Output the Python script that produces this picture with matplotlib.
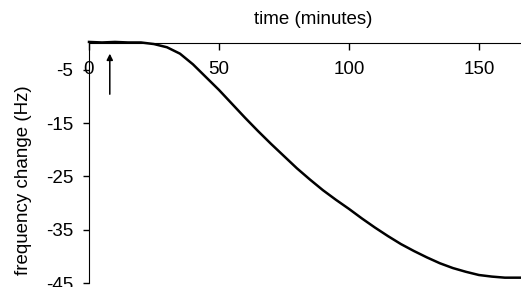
import numpy as np
import matplotlib.pyplot as plt
from matplotlib.patches import Rectangle

plt.rcParams['font.family'] = ['Liberation Sans', 'DejaVu Sans']
plt.rcParams['axes.unicode_minus'] = False

# time (minutes) and frequency change (Hz)
time_min = [0, 5, 10, 15, 20, 25, 30, 35, 40, 45, 50, 55, 60, 65, 70, 75, 80,
            85, 90, 95, 100, 105, 110, 115, 120, 125, 130, 135, 140, 145, 150,
            155, 160, 166]
freq_change = [0.2, 0.1, 0.2, 0.1, 0.1, -0.2, -0.8, -2.0, -4.0, -6.4, -8.8,
               -11.4, -14.0, -16.5, -18.9, -21.2, -23.5, -25.6, -27.6, -29.4,
               -31.1, -32.9, -34.6, -36.2, -37.7, -39.0, -40.2, -41.3, -42.2,
               -42.9, -43.5, -43.8, -44.0, -44.0]

x_ticks = [0, 50, 100, 150]
y_ticks = [-5, -15, -25, -35, -45]

# injection marker
arrow_t = 8
arrow_from = -9.6
arrow_to = -2.0

fs = 13.5

fig = plt.figure(figsize=(5.21, 2.87), dpi=100)
ax = fig.add_axes([89 / 521, 1 - 283 / 287, 1 - 89 / 521, (283 - 43) / 287])

ax.plot(time_min, freq_change, color='black', linewidth=1.8, clip_on=False,
        solid_joinstyle='round')
ax.annotate('', xy=(arrow_t, arrow_to), xytext=(arrow_t, arrow_from),
            arrowprops=dict(arrowstyle='-|>', color='black', lw=1.1,
                            mutation_scale=9, shrinkA=0, shrinkB=0))

ax.set_xlim(0, 166.2)
ax.set_ylim(-45, 0)
ax.set_xticks(x_ticks)
ax.set_yticks(y_ticks)

ax.spines['right'].set_visible(False)
ax.spines['bottom'].set_visible(False)
ax.xaxis.set_ticks_position('top')
ax.tick_params(axis='x', direction='in', length=5, width=1, pad=-25,
               labelsize=fs)
ax.tick_params(axis='y', direction='out', length=4.5, width=1, pad=7,
               labelsize=fs)

fig.text(313 / 521, 1 - 20 / 287, 'time (minutes)', ha='center', va='center',
         fontsize=fs)

# y label is cut off just above "(Hz" in the original
ylab = fig.text(24 / 521, 1 - 180 / 287, 'frequency change (Hz)', rotation=90,
                ha='center', va='center', fontsize=fs)
clip_rect = Rectangle((0, 0), 0.2, 1 - 71 / 287, transform=fig.transFigure,
                      visible=False)
ylab.set_clip_path(clip_rect)

fig.savefig('out.png', dpi=100)
